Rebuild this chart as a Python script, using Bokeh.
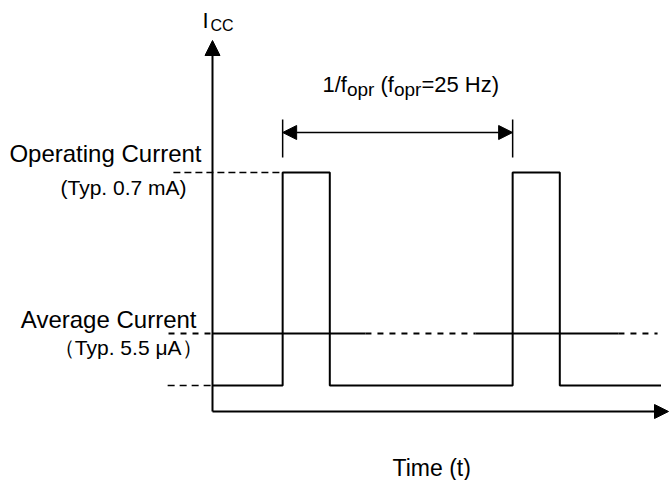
from bokeh.plotting import figure
from bokeh.models import Range1d, Arrow, NormalHead
from bokeh.core.properties import value
from bokeh.embed import file_html
from bokeh.resources import INLINE

# ---------------- data (schematic timing diagram) ----------------
f_opr_hz = 25.0
period_ms = 1000.0 / f_opr_hz           # 40 ms between pulses
pulse_start_ms = [12.2, 52.2]           # rising edges
pulse_width_ms = 8.2
trace_end_ms = 78.0

# normalised current levels (not to scale, schematic)
level_standby = 0.0
level_average = 0.244
level_operating = 1.0

# average-current line pieces (solid / dashed), in ms
avg_solid = [(0.0, 26.6), (45.7, 70.6)]
avg_dashed = [(-7.65, 0.0), (26.6, 45.7), (70.6, 77.4)]
op_dash_start_ms = -6.8
base_dash_start_ms = -7.8

label_op = "Operating Current"
label_op_typ = "(Typ. 0.7 mA)"
label_avg = "Average Current"
label_avg_typ = "（Typ. 5.5 μA）"
label_time = "Time (t)"

# ---------------- layout helpers (page pixel -> data) ----------------
PX0, PXS = 212.0, 5.75      # page x of t=0, px per ms
PY0, PYS = 385.0, 213.0     # page y of level 0, px per unit
OX, OY = 0, 0               # page offset of the figure
TEXT_DY = -7                # baseline correction for text glyphs


def tx(px):
    return (px - PX0) / PXS


def ty(py):
    return (PY0 - py) / PYS


W, H = 669, 480
p = figure(width=W, height=H, output_backend="svg", toolbar_location=None,
           x_range=Range1d(tx(OX), tx(OX + W)), y_range=Range1d(ty(OY + H), ty(OY)),
           x_axis_location=None, y_axis_location=None, min_border=0)
p.outline_line_color = None
p.xgrid.visible = False
p.ygrid.visible = False
p.background_fill_color = "white"
p.border_fill_color = "white"

FONT = value("Liberation Sans")

# ---------------- waveform ----------------
xs, ys = [0.0], [level_standby]
for s in pulse_start_ms:
    e = s + pulse_width_ms
    xs += [s, s, e, e]
    ys += [level_standby, level_operating, level_operating, level_standby]
xs.append(trace_end_ms)
ys.append(level_standby)
p.line(xs, ys, line_color="black", line_width=2)

# average line
for a, b in avg_solid:
    p.line([a, b], [level_average, level_average], line_color="black", line_width=2)
for a, b in avg_dashed:
    p.line([a, b], [level_average, level_average], line_color="black",
           line_width=2, line_dash="6 6")

# operating level dashed reference
p.line([op_dash_start_ms, pulse_start_ms[0]], [level_operating, level_operating],
       line_color="black", line_width=1.5, line_dash="7 4")
# standby level dashed reference
p.line([base_dash_start_ms, 0.0], [level_standby, level_standby],
       line_color="black", line_width=1.5, line_dash="7 5")

# ---------------- axes with arrows ----------------
x_axis_y = ty(411)
p.add_layout(Arrow(end=NormalHead(size=14, fill_color="black", line_color="black"),
                   x_start=tx(212), y_start=x_axis_y, x_end=tx(668), y_end=x_axis_y,
                   line_width=2, line_color="black"))
p.add_layout(Arrow(end=NormalHead(size=15, fill_color="black", line_color="black"),
                   x_start=tx(212), y_start=x_axis_y, x_end=tx(212), y_end=ty(40),
                   line_width=2, line_color="black"))

# period marker
arr_y = ty(132)
t1, t2 = pulse_start_ms[0], pulse_start_ms[0] + period_ms
p.add_layout(Arrow(start=NormalHead(size=14, fill_color="black", line_color="black"),
                   end=NormalHead(size=14, fill_color="black", line_color="black"),
                   x_start=t1, y_start=arr_y, x_end=t2, y_end=arr_y,
                   line_width=1.5, line_color="black"))
p.segment(x0=[t1, t2], y0=[ty(119)] * 2, x1=[t1, t2], y1=[ty(157)] * 2,
          line_color="black", line_width=1.5)

# ---------------- texts ----------------
def txt(x, y, s, size, align="left"):
    p.text(x=[tx(x)], y=[ty(y + TEXT_DY)], text=[s], text_font=FONT,
           text_font_size=f"{size}px", text_align=align,
           text_baseline="alphabetic", text_color="black")


# I_CC
txt(202, 27, "I", 22)
txt(210, 32, "CC", 16)

# 1/f_opr (f_opr=25 Hz)
adv = {'1': 556, '/': 278, 'f': 278, 'o': 556, 'p': 556, 'r': 333, ' ': 278,
       '(': 333, '=': 584, '2': 556, '5': 556, 'H': 722, 'z': 500, ')': 333}
pieces = [("1/f", 22, 91), ("opr", 19, 96), (" ", 22, 91), ("(f", 22, 91),
          ("opr", 19, 96), ("=25 Hz)", 22, 91)]
cx = 322.0
for s, sz, by in pieces:
    if s.strip():
        txt(cx, by, s, sz)
    cx += sum(adv[c] for c in s) / 1000.0 * sz

txt(201, 160, label_op, 24, "right")
txt(186, 194, label_op_typ, 21, "right")
txt(196, 326, label_avg, 24, "right")
txt(202, 354, label_avg_typ, 21, "right")
txt(392, 474, label_time, 23)

open("out.html", "w").write(file_html(p, INLINE))
